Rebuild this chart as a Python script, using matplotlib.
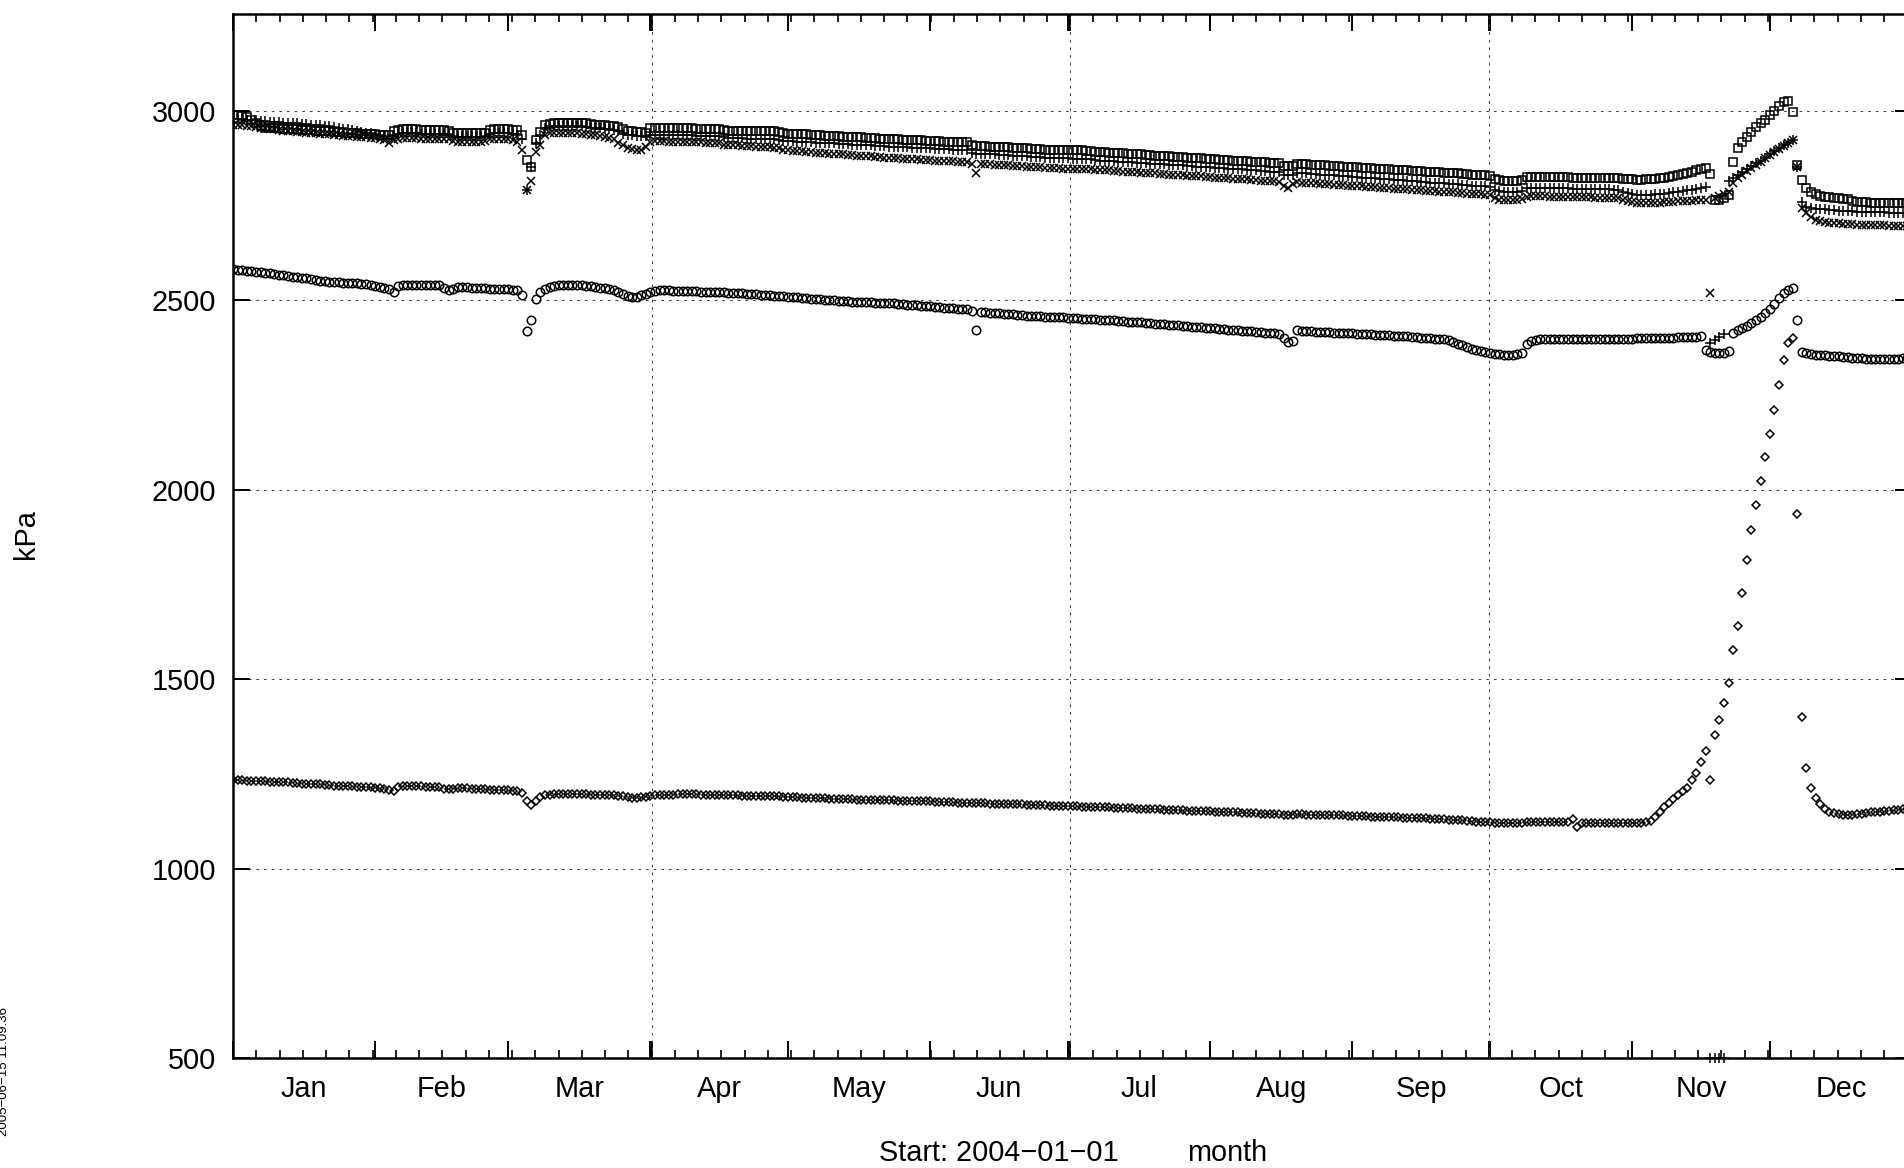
import numpy as np
import matplotlib
matplotlib.use('Agg')
import matplotlib.pyplot as plt
import matplotlib.transforms as mtransforms

# daily readings, day 0 = 2004-01-01 (kPa)
squares = [
    2988, 2987, 2985, 2982, 2975, 2966, 2958, 2955, 2954, 2953,
    2953, 2952, 2951, 2950, 2950, 2949, 2948, 2948, 2947, 2946,
    2946, 2945, 2944, 2944, 2943, 2942, 2941, 2940, 2939, 2938,
    2938, 2937, 2936, 2936, 2935, 2945, 2949, 2950, 2950, 2950,
    2950, 2949, 2949, 2949, 2948, 2948, 2948, 2947, 2942, 2941,
    2941, 2940, 2940, 2941, 2941, 2942, 2948, 2950, 2950, 2950,
    2950, 2949, 2948, 2935, 2870, 2850, 2922, 2944, 2962, 2965,
    2966, 2967, 2967, 2967, 2967, 2966, 2966, 2966, 2965, 2963,
    2962, 2961, 2960, 2958, 2956, 2950, 2947, 2945, 2944, 2943,
    2942, 2953, 2954, 2954, 2954, 2954, 2953, 2953, 2953, 2953,
    2953, 2952, 2952, 2952, 2952, 2951, 2951, 2948, 2947, 2947,
    2947, 2947, 2946, 2946, 2946, 2946, 2945, 2945, 2945, 2944,
    2940, 2939, 2939, 2938, 2937, 2937, 2936, 2935, 2935, 2934,
    2933, 2933, 2932, 2931, 2931, 2930, 2929, 2929, 2928, 2928,
    2927, 2926, 2926, 2925, 2924, 2924, 2923, 2923, 2922, 2921,
    2921, 2920, 2920, 2919, 2919, 2918, 2918, 2917, 2917, 2916,
    2916, 2908, 2907, 2907, 2906, 2905, 2905, 2904, 2903, 2903,
    2902, 2901, 2900, 2900, 2899, 2898, 2898, 2897, 2896, 2896,
    2896, 2896, 2896, 2895, 2895, 2895, 2894, 2893, 2891, 2890,
    2890, 2889, 2888, 2887, 2887, 2886, 2885, 2884, 2884, 2883,
    2882, 2881, 2881, 2880, 2879, 2878, 2877, 2877, 2876, 2875,
    2874, 2874, 2873, 2872, 2871, 2870, 2870, 2869, 2868, 2867,
    2867, 2866, 2865, 2864, 2864, 2863, 2862, 2861, 2861, 2853,
    2853, 2853, 2859, 2858, 2858, 2857, 2856, 2856, 2855, 2854,
    2854, 2853, 2852, 2852, 2851, 2850, 2849, 2849, 2848, 2847,
    2847, 2846, 2845, 2844, 2844, 2843, 2842, 2841, 2841, 2840,
    2839, 2838, 2838, 2837, 2836, 2835, 2834, 2834, 2833, 2832,
    2831, 2830, 2830, 2829, 2828, 2820, 2816, 2815, 2815, 2814,
    2815, 2816, 2824, 2825, 2825, 2825, 2825, 2824, 2824, 2824,
    2824, 2824, 2823, 2823, 2823, 2823, 2823, 2823, 2823, 2822,
    2822, 2822, 2822, 2819, 2818, 2818, 2817, 2817, 2818, 2818,
    2820, 2821, 2823, 2825, 2827, 2829, 2832, 2835, 2838, 2842,
    2846, 2848, 2832, 2763, 2764, 2768, 2777, 2865, 2900, 2918,
    2931, 2944, 2957, 2966, 2976, 2988, 3000, 3011, 3023, 3025,
    2995, 2855, 2817, 2796, 2784, 2779, 2775, 2773, 2771, 2770,
    2768, 2767, 2766, 2760, 2759, 2758, 2758, 2757, 2757, 2757,
    2757, 2757, 2756, 2756, 2756, 2756,
]

plus = [
    2978, 2978, 2977, 2976, 2975, 2974, 2973, 2972, 2971, 2970,
    2969, 2968, 2968, 2967, 2966, 2965, 2964, 2963, 2962, 2961,
    2960, 2958, 2956, 2954, 2952, 2950, 2948, 2946, 2944, 2942,
    2940, 2938, 2936, 2934, 2926, 2932, 2938, 2940, 2940, 2940,
    2940, 2939, 2939, 2939, 2938, 2938, 2938, 2937, 2932, 2931,
    2931, 2930, 2930, 2931, 2931, 2932, 2938, 2940, 2940, 2940,
    2940, 2939, 2935, 2925, 2790, 2850, 2915, 2935, 2955, 2958,
    2959, 2959, 2959, 2959, 2958, 2958, 2958, 2957, 2955, 2954,
    2953, 2952, 2950, 2948, 2945, 2939, 2936, 2935, 2934, 2933,
    2932, 2936, 2936, 2936, 2936, 2936, 2935, 2935, 2935, 2935,
    2935, 2934, 2934, 2934, 2933, 2933, 2932, 2929, 2928, 2928,
    2928, 2927, 2926, 2926, 2926, 2925, 2925, 2924, 2924, 2923,
    2920, 2919, 2919, 2918, 2917, 2917, 2916, 2915, 2915, 2914,
    2913, 2913, 2912, 2911, 2911, 2910, 2909, 2909, 2908, 2908,
    2907, 2906, 2906, 2905, 2904, 2904, 2903, 2903, 2902, 2901,
    2901, 2900, 2900, 2899, 2899, 2898, 2898, 2897, 2897, 2896,
    2896, 2887, 2886, 2886, 2885, 2884, 2884, 2883, 2882, 2882,
    2881, 2880, 2879, 2879, 2878, 2877, 2877, 2876, 2875, 2875,
    2875, 2875, 2874, 2873, 2873, 2873, 2872, 2871, 2869, 2868,
    2868, 2867, 2866, 2865, 2865, 2864, 2863, 2862, 2862, 2861,
    2860, 2859, 2859, 2858, 2857, 2856, 2855, 2855, 2854, 2853,
    2852, 2852, 2851, 2850, 2849, 2848, 2848, 2847, 2846, 2845,
    2845, 2844, 2843, 2842, 2841, 2840, 2839, 2838, 2838, 2830,
    2830, 2830, 2835, 2834, 2834, 2833, 2832, 2831, 2830, 2829,
    2829, 2828, 2827, 2826, 2825, 2824, 2823, 2823, 2822, 2821,
    2820, 2819, 2818, 2817, 2817, 2816, 2815, 2814, 2813, 2812,
    2811, 2810, 2810, 2809, 2808, 2807, 2806, 2805, 2804, 2803,
    2802, 2801, 2801, 2800, 2799, 2791, 2787, 2786, 2786, 2785,
    2786, 2787, 2795, 2796, 2796, 2796, 2796, 2795, 2795, 2795,
    2795, 2795, 2794, 2794, 2794, 2794, 2793, 2793, 2793, 2792,
    2792, 2791, 2790, 2786, 2783, 2780, 2778, 2777, 2777, 2778,
    2779, 2780, 2781, 2783, 2784, 2786, 2787, 2789, 2791, 2793,
    2795, 2797, 2387, 2395, 2402, 2410, 2813, 2821, 2829, 2837,
    2845, 2853, 2861, 2868, 2876, 2884, 2892, 2900, 2908, 2915,
    2922, 2852, 2759, 2746, 2743, 2741, 2740, 2739, 2738, 2737,
    2736, 2735, 2735, 2734, 2733, 2733, 2732, 2732, 2731, 2731,
    2731, 2730, 2730, 2730, 2730, 2729,
]

crosses = [
    2963, 2962, 2961, 2960, 2959, 2957, 2955, 2953, 2951, 2950,
    2948, 2947, 2946, 2945, 2944, 2943, 2942, 2941, 2940, 2939,
    2938, 2937, 2936, 2935, 2934, 2933, 2932, 2931, 2930, 2929,
    2928, 2927, 2926, 2922, 2914, 2922, 2926, 2927, 2927, 2927,
    2927, 2926, 2926, 2926, 2925, 2925, 2925, 2924, 2919, 2918,
    2918, 2917, 2917, 2918, 2918, 2919, 2924, 2926, 2926, 2925,
    2924, 2922, 2918, 2896, 2790, 2815, 2891, 2910, 2935, 2940,
    2941, 2941, 2941, 2941, 2940, 2940, 2939, 2938, 2936, 2935,
    2933, 2931, 2928, 2925, 2915, 2908, 2902, 2898, 2896, 2897,
    2903, 2918, 2919, 2919, 2919, 2918, 2918, 2918, 2917, 2917,
    2917, 2916, 2916, 2915, 2915, 2914, 2914, 2910, 2909, 2908,
    2908, 2907, 2906, 2906, 2905, 2904, 2904, 2903, 2902, 2901,
    2896, 2895, 2894, 2893, 2892, 2891, 2890, 2889, 2888, 2887,
    2886, 2886, 2885, 2884, 2883, 2882, 2881, 2880, 2880, 2879,
    2878, 2877, 2876, 2876, 2875, 2874, 2873, 2873, 2872, 2871,
    2870, 2870, 2869, 2868, 2868, 2867, 2866, 2866, 2865, 2864,
    2864, 2860, 2834, 2860, 2859, 2858, 2857, 2857, 2856, 2855,
    2854, 2853, 2853, 2852, 2851, 2850, 2850, 2849, 2848, 2848,
    2848, 2847, 2847, 2847, 2846, 2846, 2845, 2845, 2844, 2843,
    2842, 2842, 2841, 2840, 2839, 2838, 2838, 2837, 2836, 2835,
    2835, 2834, 2833, 2832, 2831, 2831, 2830, 2829, 2828, 2827,
    2827, 2826, 2825, 2824, 2823, 2823, 2822, 2821, 2820, 2819,
    2819, 2818, 2817, 2816, 2815, 2815, 2814, 2813, 2812, 2800,
    2795, 2805, 2811, 2810, 2809, 2808, 2808, 2807, 2806, 2805,
    2804, 2804, 2803, 2802, 2801, 2800, 2800, 2799, 2798, 2797,
    2796, 2796, 2795, 2794, 2793, 2792, 2792, 2791, 2790, 2789,
    2788, 2788, 2787, 2786, 2785, 2784, 2784, 2783, 2782, 2781,
    2780, 2780, 2779, 2778, 2777, 2768, 2765, 2764, 2764, 2763,
    2764, 2766, 2773, 2774, 2774, 2774, 2774, 2773, 2773, 2773,
    2773, 2772, 2772, 2772, 2771, 2771, 2771, 2770, 2770, 2770,
    2769, 2769, 2768, 2764, 2761, 2759, 2757, 2756, 2756, 2756,
    2757, 2757, 2758, 2758, 2759, 2760, 2760, 2761, 2762, 2763,
    2764, 2765, 2518, 2770, 2775, 2780, 2786, 2810, 2822, 2831,
    2840, 2849, 2857, 2865, 2874, 2882, 2890, 2898, 2906, 2914,
    2922, 2852, 2743, 2730, 2720, 2712, 2708, 2706, 2704, 2703,
    2702, 2701, 2700, 2700, 2699, 2699, 2698, 2698, 2697, 2697,
    2697, 2696, 2696, 2696, 2695, 2695,
]

circles = [
    2581, 2579, 2578, 2577, 2576, 2575, 2573, 2571, 2570, 2568,
    2567, 2565, 2564, 2562, 2560, 2558, 2557, 2555, 2553, 2551,
    2549, 2548, 2547, 2547, 2546, 2546, 2545, 2544, 2543, 2541,
    2539, 2537, 2535, 2533, 2528, 2522, 2537, 2540, 2540, 2540,
    2540, 2540, 2540, 2540, 2539, 2539, 2532, 2526, 2530, 2535,
    2535, 2534, 2533, 2532, 2531, 2531, 2530, 2530, 2529, 2529,
    2528, 2527, 2526, 2513, 2419, 2447, 2504, 2522, 2530, 2534,
    2537, 2539, 2540, 2540, 2540, 2540, 2539, 2538, 2536, 2535,
    2533, 2531, 2529, 2526, 2521, 2516, 2511, 2508, 2508, 2512,
    2517, 2522, 2525, 2526, 2526, 2526, 2525, 2525, 2524, 2524,
    2523, 2523, 2522, 2522, 2521, 2521, 2520, 2520, 2519, 2519,
    2518, 2518, 2517, 2516, 2515, 2514, 2513, 2512, 2511, 2510,
    2510, 2509, 2508, 2507, 2506, 2505, 2504, 2503, 2502, 2501,
    2500, 2499, 2498, 2498, 2497, 2496, 2496, 2495, 2494, 2494,
    2493, 2492, 2492, 2491, 2491, 2490, 2489, 2488, 2487, 2486,
    2485, 2484, 2483, 2482, 2481, 2480, 2479, 2478, 2477, 2476,
    2475, 2470, 2420, 2469, 2468, 2467, 2466, 2465, 2464, 2463,
    2462, 2461, 2460, 2459, 2458, 2458, 2457, 2456, 2456, 2455,
    2454, 2454, 2453, 2452, 2452, 2451, 2450, 2449, 2449, 2448,
    2447, 2446, 2446, 2445, 2444, 2443, 2443, 2442, 2441, 2440,
    2439, 2438, 2437, 2436, 2435, 2434, 2433, 2432, 2431, 2430,
    2429, 2428, 2427, 2426, 2425, 2424, 2423, 2422, 2421, 2420,
    2419, 2418, 2417, 2416, 2415, 2414, 2413, 2412, 2410, 2400,
    2390, 2393, 2420, 2418, 2418, 2417, 2416, 2416, 2415, 2415,
    2414, 2414, 2413, 2412, 2412, 2411, 2411, 2410, 2410, 2409,
    2408, 2408, 2407, 2406, 2405, 2405, 2404, 2403, 2402, 2401,
    2400, 2399, 2398, 2397, 2396, 2394, 2390, 2385, 2380, 2375,
    2371, 2368, 2365, 2362, 2360, 2358, 2357, 2356, 2356, 2356,
    2357, 2360, 2385, 2392, 2395, 2396, 2397, 2397, 2397, 2397,
    2397, 2397, 2396, 2396, 2396, 2396, 2397, 2397, 2397, 2397,
    2397, 2398, 2398, 2398, 2398, 2398, 2399, 2399, 2399, 2400,
    2400, 2400, 2401, 2401, 2401, 2402, 2402, 2402, 2403, 2403,
    2404, 2368, 2364, 2361, 2359, 2360, 2365, 2412, 2420, 2426,
    2432, 2440, 2448, 2456, 2465, 2476, 2490, 2505, 2518, 2527,
    2531, 2447, 2364, 2360, 2358, 2356, 2355, 2354, 2353, 2352,
    2351, 2350, 2349, 2348, 2347, 2346, 2345, 2345, 2344, 2344,
    2344, 2344, 2345, 2345, 2346, 2346,
]

diamonds = [
    1234, 1234, 1233, 1232, 1232, 1231, 1231, 1230, 1229, 1229,
    1228, 1227, 1227, 1226, 1225, 1224, 1224, 1223, 1222, 1222,
    1221, 1220, 1219, 1219, 1218, 1217, 1217, 1216, 1215, 1215,
    1214, 1213, 1212, 1210, 1207, 1205, 1214, 1218, 1218, 1218,
    1217, 1217, 1216, 1216, 1215, 1214, 1211, 1209, 1211, 1213,
    1212, 1212, 1211, 1210, 1210, 1209, 1208, 1208, 1207, 1206,
    1206, 1205, 1204, 1198, 1178, 1167, 1178, 1188, 1193, 1195,
    1196, 1197, 1197, 1197, 1197, 1197, 1196, 1196, 1195, 1195,
    1195, 1194, 1194, 1193, 1192, 1191, 1189, 1187, 1187, 1188,
    1189, 1191, 1193, 1194, 1195, 1195, 1195, 1196, 1196, 1196,
    1196, 1196, 1195, 1195, 1195, 1194, 1194, 1194, 1193, 1193,
    1193, 1192, 1192, 1192, 1191, 1191, 1191, 1190, 1190, 1190,
    1189, 1189, 1188, 1188, 1187, 1187, 1186, 1186, 1185, 1185,
    1184, 1184, 1184, 1183, 1183, 1183, 1182, 1182, 1182, 1181,
    1181, 1181, 1180, 1180, 1180, 1179, 1179, 1179, 1178, 1178,
    1178, 1177, 1177, 1176, 1176, 1175, 1175, 1175, 1174, 1174,
    1173, 1173, 1172, 1172, 1172, 1171, 1171, 1171, 1170, 1170,
    1170, 1169, 1169, 1168, 1168, 1168, 1167, 1167, 1166, 1166,
    1166, 1165, 1165, 1164, 1164, 1163, 1163, 1163, 1162, 1162,
    1161, 1161, 1160, 1160, 1159, 1159, 1159, 1158, 1158, 1157,
    1157, 1156, 1156, 1155, 1155, 1155, 1154, 1154, 1153, 1153,
    1152, 1152, 1151, 1151, 1150, 1150, 1149, 1149, 1148, 1148,
    1147, 1147, 1146, 1146, 1145, 1145, 1144, 1144, 1143, 1141,
    1140, 1141, 1143, 1143, 1142, 1142, 1142, 1141, 1141, 1141,
    1140, 1140, 1140, 1139, 1139, 1139, 1138, 1138, 1137, 1137,
    1137, 1136, 1136, 1135, 1135, 1134, 1134, 1133, 1133, 1132,
    1132, 1131, 1131, 1130, 1130, 1129, 1128, 1128, 1127, 1126,
    1125, 1124, 1123, 1122, 1122, 1121, 1121, 1120, 1120, 1120,
    1120, 1121, 1122, 1123, 1123, 1123, 1123, 1123, 1122, 1122,
    1122, 1122, 1130, 1110, 1120, 1121, 1121, 1121, 1121, 1121,
    1121, 1121, 1120, 1120, 1120, 1120, 1121, 1121, 1122, 1126,
    1137, 1150, 1161, 1174, 1183, 1194, 1205, 1213, 1234, 1253,
    1280, 1311, 1234, 1352, 1392, 1437, 1490, 1577, 1641, 1726,
    1814, 1893, 1959, 2023, 2085, 2146, 2210, 2276, 2342, 2387,
    2399, 1935, 1400, 1266, 1212, 1185, 1170, 1158, 1150, 1146,
    1143, 1142, 1141, 1142, 1143, 1145, 1146, 1148, 1149, 1150,
    1152, 1153, 1154, 1155, 1156, 1157,
]

# a few '+' readings sitting on the bottom border in November
floor_days = [322, 323, 324, 325]
floor_vals = [500, 500, 500, 500]

month_names = ['Jan', 'Feb', 'Mar', 'Apr', 'May', 'Jun',
               'Jul', 'Aug', 'Sep', 'Oct', 'Nov', 'Dec']
month_len = [31, 29, 31, 30, 31, 30, 31, 31, 30, 31, 30, 31]

W, H = 1904, 1168


def main():
    plt.rcParams['font.family'] = ['Liberation Sans', 'DejaVu Sans']
    plt.rcParams['lines.scale_dashes'] = False

    fig = plt.figure(figsize=(W / 100, H / 100), dpi=100)
    # right border sits just outside the picture, as in the original
    ax = fig.add_axes([233 / W, (H - 1058) / H, (1912 - 233) / W, (1058 - 13.5) / H])

    mk = dict(linestyle='none', color='black', mfc='none', mew=1.1)
    ax.plot(np.arange(len(squares)), squares, marker='s', ms=6.0, **mk)
    ax.plot(np.arange(len(plus)), plus, marker='+', ms=6.5, **mk)
    ax.plot(np.arange(len(crosses)), crosses, marker='x', ms=5.3, **mk)
    ax.plot(np.arange(len(circles)), circles, marker='o', ms=6.1, **mk)
    ax.plot(np.arange(len(diamonds)), diamonds, marker='D', ms=3.6, **mk)
    ax.plot(floor_days, floor_vals, marker='+', ms=6.5, clip_on=False, **mk)

    ax.set_xlim(0, 366)
    ax.set_ylim(500, 3256)

    starts = np.cumsum([0] + month_len[:-1])
    quarters = [91.25, 182.5, 273.75]
    ax.set_xticks(sorted(list(starts) + quarters))
    ax.set_xticks(np.arange(1, 73) * 91.25 / 18, minor=True)
    ax.set_yticks(range(500, 3001, 500))

    ax.tick_params(which='both', direction='in', top=True, right=True,
                   labelbottom=False, color='black')
    ax.tick_params(which='major', length=12.2, width=1.4)
    ax.tick_params(which='minor', length=5.8, width=1.2)
    ax.tick_params(axis='y', labelsize=20.8, pad=12.0)
    for s in ax.spines.values():
        s.set_linewidth(1.8)

    grid_style = dict(color='0.25', linewidth=0.75, dashes=(1.9, 3.6))
    ax.grid(axis='y', **grid_style)
    for q in quarters:
        ax.axvline(q, **grid_style)
    ax.set_axisbelow(True)

    trans = mtransforms.blended_transform_factory(ax.transData, ax.transAxes)
    for st, n, name in zip(starts, month_len, month_names):
        ax.text(st + n / 2, -39 / (1058 - 13.5), name, transform=trans,
                ha='center', va='baseline', fontsize=20.8)

    fig.text(878.6 / W, 1 - 1161 / H, 'Start: 2004\u221201\u221201',
             ha='left', va='baseline', fontsize=20.8)
    fig.text(1186.6 / W, 1 - 1161 / H, 'month',
             ha='left', va='baseline', fontsize=20.8)
    fig.text(26 / W, 1 - 534 / H, 'kPa', rotation=90,
             ha='center', va='center', fontsize=20.8)
    fig.text(4.5 / W, 1 - 1072 / H, '2005\u221206\u221215 11:09:36', rotation=90,
             ha='center', va='center', fontsize=9.5)

    fig.savefig('out.png', dpi=100)


if __name__ == '__main__':
    main()
